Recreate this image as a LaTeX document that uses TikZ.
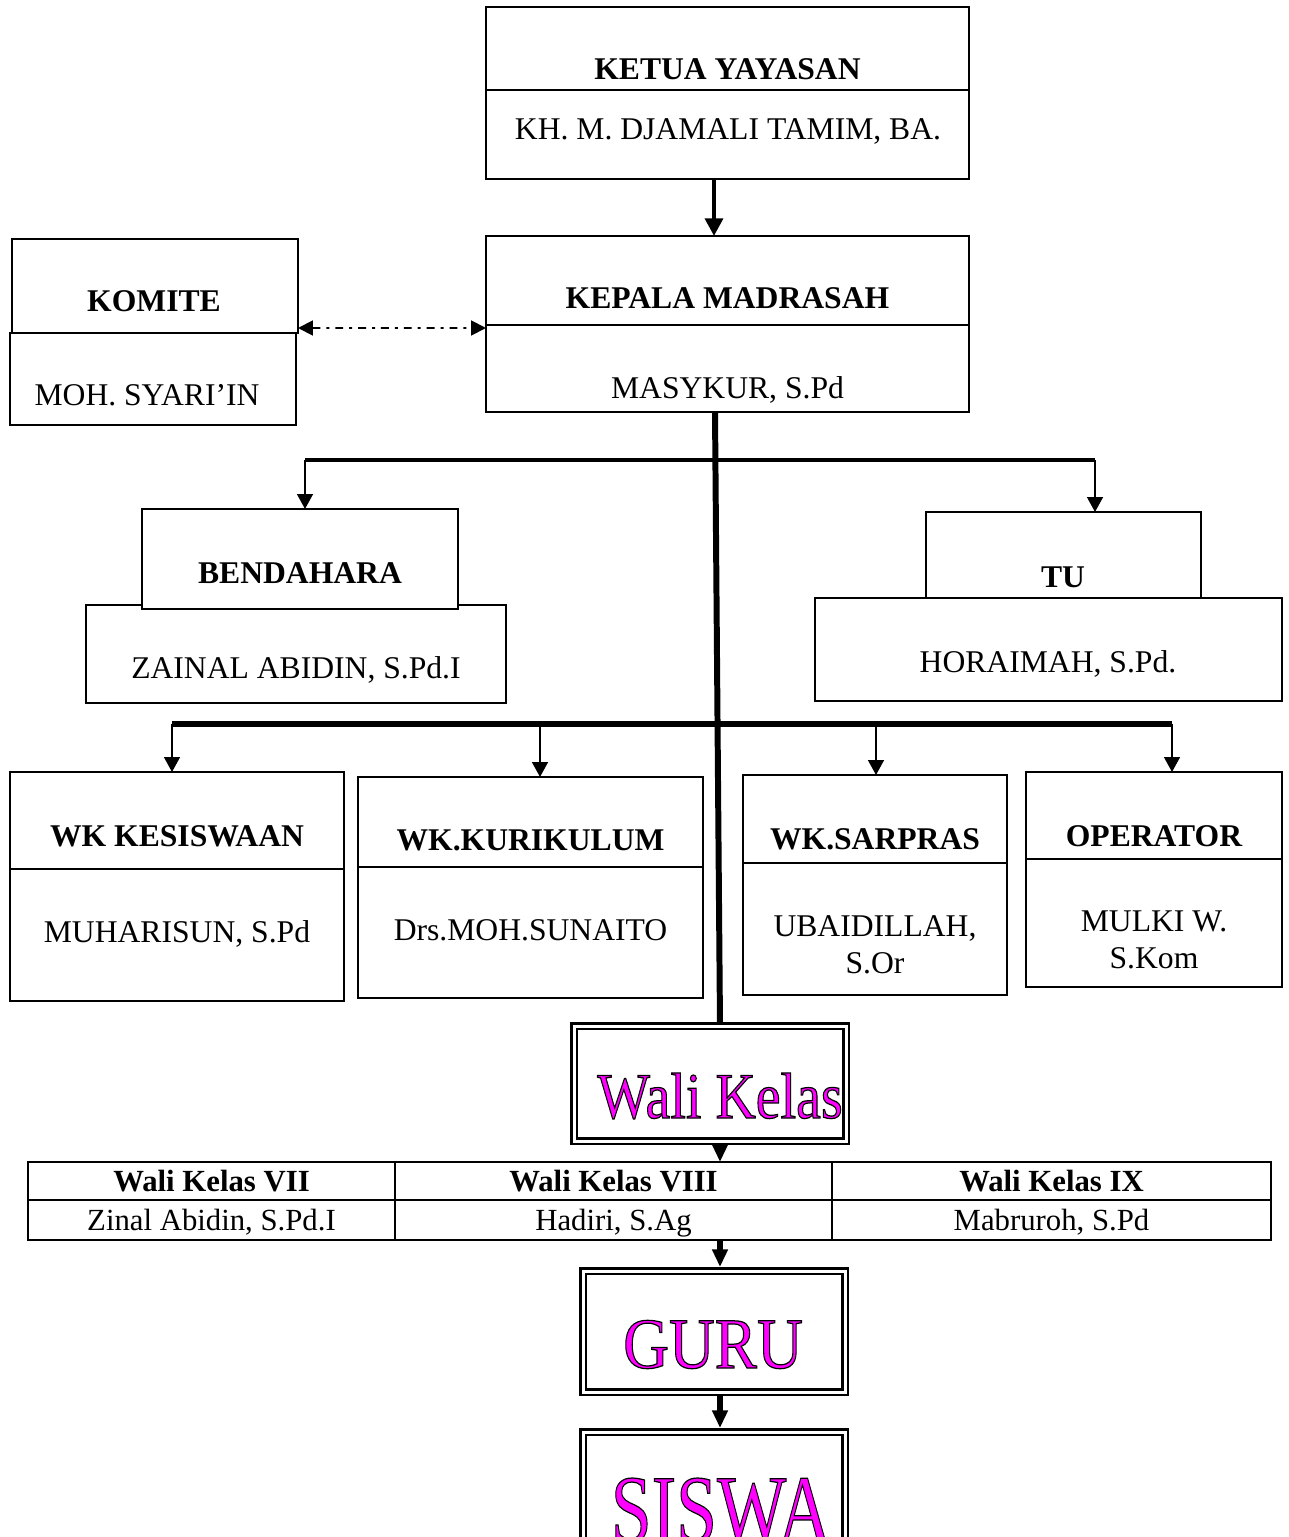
\documentclass[tikz,border=0pt]{standalone}
\usepackage{fontspec}
\setmainfont{Liberation Serif}
\usepackage{graphicx}
\usepackage{tikz}
\usetikzlibrary{arrows.meta}
\definecolor{artpink}{RGB}{255,0,255}
\newlength{\unitpx}
\setlength{\unitpx}{0.02cm}
\newcommand{\wordart}[1]{\special{pdf:literal direct 2 Tr 0.7 w 0 G}#1\special{pdf:literal direct 0 Tr}}
\tikzset{
  unitbox/.style 2 args={draw, fill=white, line width=1.1pt, inner sep=0pt, outer sep=0pt, minimum width=#1\unitpx, minimum height=#2\unitpx},
  framebox/.style 2 args={draw, fill=white, line width=1.4pt, double, double distance=1.7pt, inner sep=0pt, outer sep=0pt, minimum width=#1\unitpx, minimum height=#2\unitpx},
  title/.style={font=\fontsize{18}{22}\selectfont\bfseries, anchor=base, inner sep=0pt},
  person/.style={font=\fontsize{18}{21}\selectfont, anchor=base, align=center, inner sep=0pt},
  cellhead/.style={unitbox={#1}{38}, font=\fontsize{17.5}{20}\selectfont\bfseries, text depth=0pt},
  cellname/.style={unitbox={#1}{40}, font=\fontsize{17.5}{20}\selectfont, text depth=0pt},
  bigword/.style={text=artpink, anchor=base, inner sep=0pt},
  thickarrow/.style={line width=2.8pt, -{Triangle[width=10pt,length=10pt]}},
  stubarrow/.style={line width=3pt, -{Triangle[width=8.5pt,length=10pt]}},
  droparrow/.style={line width=1.1pt, -{Triangle[width=9pt,length=8.5pt]}},
  linkarrow/.style={line width=1.1pt, dash pattern=on 4.5pt off 3.4pt on 1.7pt off 3.4pt,
    {Triangle[width=8.5pt,length=8.5pt]}-{Triangle[width=8.5pt,length=8.5pt]}},
  spineline/.style={line width=3.4pt},
  busthin/.style={line width=2.3pt},
  busthick/.style={line width=3.4pt}
}
\begin{document}
\begin{tikzpicture}[x=0.02cm, y=-0.02cm]
\useasboundingbox (0,0) rectangle (1288,1537);

\node[unitbox={483}{83}] (ketuaT) at (727.5,48.5) {};
\node[unitbox={483}{89}] (ketuaB) at (727.5,134.5) {};
\node[title] (ketuaTitle) at (727.5,80) {KETUA YAYASAN};
\node[person] (ketuaName) at (728,140) {KH. M. DJAMALI TAMIM, BA.};

\node[unitbox={483}{89}] (kepalaT) at (727.5,280.5) {};
\node[unitbox={483}{87}] (kepalaB) at (727.5,368.5) {};
\node[title] (kepalaTitle) at (727.5,309) {KEPALA MADRASAH};
\node[person] (kepalaName) at (727.5,398) {MASYKUR, S.Pd};

\node[unitbox={286}{92}] (komiteB) at (153,379) {};
\node[unitbox={286}{94}] (komiteT) at (155,286) {};
\node[title] (komiteTitle) at (154,312) {KOMITE};
\node[person] (komiteName) at (147,405) {MOH. SYARI’IN};

\node[unitbox={420}{98}] (bendB) at (296,654) {};
\node[unitbox={316}{100}] (bendT) at (300,559) {};
\node[title] (bendTitle) at (300,583) {BENDAHARA};
\node[person] (bendName) at (296,678) {ZAINAL ABIDIN, S.Pd.I};

\node[unitbox={467}{103}] (tuB) at (1048.5,649.5) {};
\node[unitbox={275}{86}] (tuT) at (1063.5,555) {};
\node[title] (tuTitle) at (1063,587) {TU};
\node[person] (tuName) at (1048,672) {HORAIMAH, S.Pd.};

\node[unitbox={334}{97}] (kesT) at (177,820.5) {};
\node[unitbox={334}{132}] (kesB) at (177,935) {};
\node[title] (kesTitle) at (177,846) {WK KESISWAAN};
\node[person] (kesName) at (177,942) {MUHARISUN, S.Pd};

\node[unitbox={345}{90}] (kurT) at (530.5,822) {};
\node[unitbox={345}{131}] (kurB) at (530.5,932.5) {};
\node[title] (kurTitle) at (530.5,850) {WK.KURIKULUM};
\node[person] (kurName) at (530.5,940) {Drs.MOH.SUNAITO};

\node[unitbox={264}{88}] (sarT) at (875,819) {};
\node[unitbox={264}{132}] (sarB) at (875,929) {};
\node[title] (sarTitle) at (875,849) {WK.SARPRAS};
\node[person, anchor=center] (sarName) at (875,945) {UBAIDILLAH,\\S.Or};

\node[unitbox={256}{87}] (opT) at (1154,815.5) {};
\node[unitbox={256}{128}] (opB) at (1154,923) {};
\node[title] (opTitle) at (1154,846) {OPERATOR};
\node[person, anchor=center] (opName) at (1154,940) {MULKI W.\\S.Kom};

\node[framebox={272}{115}] (wali) at (710,1083.5) {};
\node[bigword, font=\fontsize{37}{40}\selectfont] (waliText) at (720,1118) {\scalebox{0.86}[1]{\wordart{Wali Kelas}}};

\node[cellhead={367}] (w7head) at (211.5,1181) {Wali Kelas VII};
\node[cellhead={437}] (w8head) at (613.5,1181) {Wali Kelas VIII};
\node[cellhead={439}] (w9head) at (1051.5,1181) {Wali Kelas IX};
\node[cellname={367}] (w7name) at (211.5,1220) {Zinal Abidin, S.Pd.I};
\node[cellname={437}] (w8name) at (613.5,1220) {Hadiri, S.Ag};
\node[cellname={439}] (w9name) at (1051.5,1220) {Mabruroh, S.Pd};

\node[framebox={262}{121}] (guru) at (714,1331.5) {};
\node[bigword, font=\fontsize{41}{44}\selectfont] (guruText) at (713,1368) {\scalebox{0.88}[1]{\wordart{GURU}}};

\node[framebox={262}{168}] (siswa) at (714,1516) {};
\node[bigword, font=\fontsize{55}{58}\selectfont] (siswaText) at (721,1542) {\scalebox{0.76}[1]{\wordart{SISWA}}};

\coordinate (spineX) at (720,0);
\draw[thickarrow] ([xshift=-13.5\unitpx]ketuaB.south) -- ([xshift=-13.5\unitpx]kepalaT.north);
\draw[linkarrow] ([yshift=5\unitpx]komiteT.south east) -- ([yshift=-3\unitpx]kepalaT.south west);
\draw[spineline, shorten >=4\unitpx] ([xshift=-12.5\unitpx]kepalaB.south) -- (wali.north -| spineX);

\coordinate (busA) at (305,460);
\coordinate (busB) at (1095,460);
\draw[busthin] (busA) -- (busB);
\draw[droparrow] (busA) -- (busA |- bendT.north);
\draw[droparrow] (busB) -- (busB |- tuT.north);

\coordinate (busC) at (172,724);
\coordinate (busD) at (1172,724);
\draw[busthick] (busC) -- (busD);
\foreach \unit/\x in {kesT/172, kurT/540, sarT/876, opT/1172}{
  \coordinate (drop\unit) at (\x,724);
  \draw[droparrow] (drop\unit) -- (drop\unit |- \unit.north);
}

\draw[stubarrow, shorten <=4\unitpx] (wali.south -| spineX) -- (w8head.north -| spineX);
\draw[stubarrow, shorten >=4\unitpx] (w8name.south -| spineX) -- (guru.north -| spineX);
\draw[stubarrow, shorten <=4\unitpx, shorten >=4\unitpx] (guru.south -| spineX) -- (siswa.north -| spineX);
\end{tikzpicture}
\end{document}
